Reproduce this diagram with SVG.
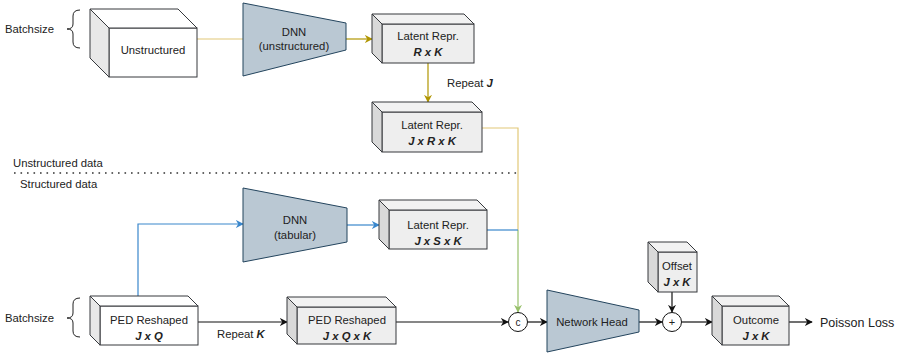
<svg xmlns="http://www.w3.org/2000/svg" width="902" height="354" viewBox="0 0 902 354">
<style>
text{font-family:"Liberation Sans",Arial,sans-serif;font-size:11.3px;fill:#222;}
.c{text-anchor:middle;}
.b{font-weight:bold;font-style:italic;}
.edge{stroke:#36393d;stroke-width:1;}
.frontW{fill:#ffffff;}
.sideW{fill:#e8e8e8;}
.frontG{fill:#eeeeee;}
.sideG{fill:#d9d9d9;}
.topG{fill:#f2f2f2;}
.trap{fill:#bac8d3;stroke:#23445d;stroke-width:1;}
.ln{fill:none;stroke-width:1.2;}
.k{stroke:#111;}
.y{stroke:#e2c878;}
.g{stroke:#b09500;}
.bl{stroke:#3a87cc;}
.gr{stroke:#97c06a;}
</style>
<defs>
<marker id="ak" viewBox="0 0 10 10" refX="9" refY="5" markerWidth="8" markerHeight="8" markerUnits="userSpaceOnUse" orient="auto"><path d="M0,0 L10,5 L0,10 L3,5 z" fill="#111"/></marker>
<marker id="ag" viewBox="0 0 10 10" refX="9" refY="5" markerWidth="8" markerHeight="8" markerUnits="userSpaceOnUse" orient="auto"><path d="M0,0 L10,5 L0,10 L3,5 z" fill="#b09500"/></marker>
<marker id="ab" viewBox="0 0 10 10" refX="9" refY="5" markerWidth="8" markerHeight="8" markerUnits="userSpaceOnUse" orient="auto"><path d="M0,0 L10,5 L0,10 L3,5 z" fill="#3a87cc"/></marker>
<marker id="agr" viewBox="0 0 10 10" refX="9" refY="5" markerWidth="8" markerHeight="8" markerUnits="userSpaceOnUse" orient="auto"><path d="M0,0 L10,5 L0,10 L3,5 z" fill="#97c06a"/></marker>
</defs>
<rect width="902" height="354" fill="#ffffff"/>

<g id="labels">
<text x="5" y="33">Batchsize</text>
<path d="M80,10 Q73,10 73,16 L73,24 Q73,29 67,29 Q73,29 73,34 L73,42 Q73,48 80,48" fill="none" stroke="#222" stroke-width="1"/>
<text x="5" y="322">Batchsize</text>
<path d="M80,298 Q73,298 73,304 L73,313 Q73,318 67,318 Q73,318 73,323 L73,331 Q73,337 80,337" fill="none" stroke="#222" stroke-width="1"/>
<text x="13" y="167">Unstructured data</text>
<text x="20" y="188">Structured data</text>
<line x1="14" y1="173" x2="518" y2="173" stroke="#333" stroke-width="1.6" stroke-dasharray="1.6 4.9"/>
<text x="447" y="87">Repeat <tspan class="b">J</tspan></text>
<text x="217" y="338">Repeat <tspan class="b">K</tspan></text>
<text x="820" y="327" style="font-size:12.5px">Poisson Loss</text>
</g>

<g id="connectors">
<path class="ln y" d="M197,39 L243,39"/>
<path class="ln g" d="M346,39 L372,39" stroke-width="1.6" marker-end="url(#ag)"/>
<path class="ln g" d="M428,63 L428,102" marker-end="url(#ag)"/>
<path class="ln y" d="M482,128 L518,128 L518,230"/>
<path class="ln gr" d="M518,230 L518,312" marker-end="url(#agr)"/>
<path class="ln bl" d="M138,296 L138,224 L243,224" marker-end="url(#ab)"/>
<path class="ln bl" d="M347,225 L379,225" marker-end="url(#ab)"/>
<path class="ln bl" d="M487,230 L518,230"/>
<path class="ln k" d="M198,322 L287,322" marker-end="url(#ak)"/>
<path class="ln k" d="M396,322 L508,322" marker-end="url(#ak)"/>
<path class="ln k" d="M528,322 L547,322" marker-end="url(#ak)"/>
<path class="ln k" d="M639,322 L662,322" marker-end="url(#ak)"/>
<path class="ln k" d="M672,292 L672,312" marker-end="url(#ak)"/>
<path class="ln k" d="M682,322 L712,322" marker-end="url(#ak)"/>
<path class="ln k" d="M789,322 L812,322" marker-end="url(#ak)"/>
</g>

<g id="unstructured">
<rect class="frontW edge" x="109" y="28" width="88" height="49"/>
<polygon class="frontW edge" points="90,9 178,9 197,28 109,28"/>
<polygon class="sideW edge" points="90,9 109,28 109,77 90,58"/>
<text class="c" x="153" y="54">Unstructured</text>
</g>

<g id="dnn-unstructured">
<polygon class="trap" points="243,3 346,23 346,50 243,76"/>
<text class="c" x="294" y="36">DNN</text>
<text class="c" x="294" y="50">(unstructured)</text>
</g>

<g id="latent-rk">
<rect class="frontG edge" x="382" y="24" width="92" height="39"/>
<polygon class="topG edge" points="372,14 464,14 474,24 382,24"/>
<polygon class="sideG edge" points="372,14 382,24 382,63 372,53"/>
<text class="c" x="428" y="40">Latent Repr.</text>
<text class="c b" x="428" y="56">R x K</text>
</g>

<g id="latent-jrk">
<rect class="frontG edge" x="382" y="112" width="100" height="40"/>
<polygon class="topG edge" points="372,102 472,102 482,112 382,112"/>
<polygon class="sideG edge" points="372,102 382,112 382,152 372,142"/>
<text class="c" x="432" y="129">Latent Repr.</text>
<text class="c b" x="432" y="145">J x R x K</text>
</g>

<g id="dnn-tabular">
<polygon class="trap" points="243,188 347,208 347,242 243,262"/>
<text class="c" x="295" y="224">DNN</text>
<text class="c" x="295" y="239">(tabular)</text>
</g>

<g id="latent-jsk">
<rect class="frontG edge" x="389" y="210" width="98" height="39"/>
<polygon class="topG edge" points="379,200 477,200 487,210 389,210"/>
<polygon class="sideG edge" points="379,200 389,210 389,249 379,239"/>
<text class="c" x="438" y="229">Latent Repr.</text>
<text class="c b" x="438" y="245">J x S x K</text>
</g>

<g id="ped-jq">
<rect class="frontW edge" x="100" y="306" width="98" height="39"/>
<polygon class="frontW edge" points="90,296 188,296 198,306 100,306"/>
<polygon class="sideW edge" points="90,296 100,306 100,345 90,335"/>
<text class="c" x="149" y="324">PED Reshaped</text>
<text class="c b" x="149" y="340">J x Q</text>
</g>

<g id="ped-jqk">
<rect class="frontG edge" x="297" y="307" width="99" height="37"/>
<polygon class="topG edge" points="287,297 386,297 396,307 297,307"/>
<polygon class="sideG edge" points="287,297 297,307 297,344 287,334"/>
<text class="c" x="347" y="324">PED Reshaped</text>
<text class="c b" x="347" y="340">J x Q x K</text>
</g>

<g id="concat">
<circle cx="518" cy="322" r="9.5" fill="#fff" stroke="#111" stroke-width="1"/>
<text class="c" x="518" y="326" style="font-size:10px">c</text>
</g>

<g id="network-head">
<polygon class="trap" points="547,290 639,310 639,332 547,352"/>
<text class="c" x="592" y="326">Network Head</text>
</g>

<g id="plus">
<circle cx="672" cy="322" r="9.5" fill="#fff" stroke="#111" stroke-width="1"/>
<text class="c" x="672" y="326" style="font-size:11px">+</text>
</g>

<g id="offset">
<rect class="frontG edge" x="658" y="252" width="39" height="40"/>
<polygon class="topG edge" points="648,242 687,242 697,252 658,252"/>
<polygon class="sideG edge" points="648,242 658,252 658,292 648,282"/>
<text class="c" x="677" y="270">Offset</text>
<text class="c b" x="677" y="286">J x K</text>
</g>

<g id="outcome">
<rect class="frontG edge" x="722" y="306" width="67" height="39"/>
<polygon class="topG edge" points="712,296 779,296 789,306 722,306"/>
<polygon class="sideG edge" points="712,296 722,306 722,345 712,335"/>
<text class="c" x="756" y="324">Outcome</text>
<text class="c b" x="756" y="340">J x K</text>
</g>
</svg>
